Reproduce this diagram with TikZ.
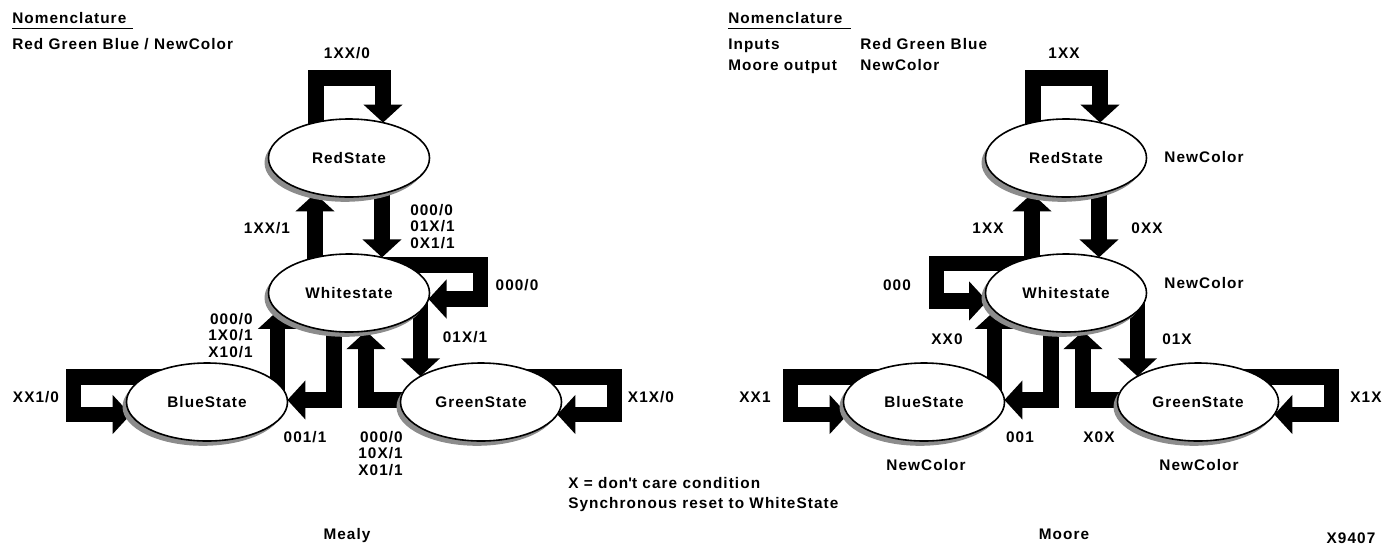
\documentclass[tikz,border=0pt]{standalone}
\usepackage{fontspec}
\setmainfont{Liberation Sans}[LetterSpace=7]
\usetikzlibrary{arrows.meta,shapes.geometric,calc,shadows,backgrounds}
\newcommand\lblfont{\fontsize{11.5}{12.4}\selectfont\bfseries}
\tikzset{
  st/.style={ellipse, draw, line width=1.2pt, fill=white, minimum width=120.75pt,
    minimum height=58.5pt, inner sep=0pt, font=\lblfont,
    general shadow={fill=black!45, shadow xshift=-3pt, shadow yshift=-3.6pt}},
  fat/.style={line width=11.6pt, line join=miter, line cap=butt,
    -{Triangle[width=28.5pt,length=13.5pt]}},
  lbl/.style={font=\lblfont, inner sep=0pt},
  rule/.style={line width=1.2pt},
}
% arrows common to both machines; #1 = name prefix
\newcommand\fsmarrows[1]{%
  % RedState self loop
  \draw[fat] ($(#1R)+(-33,-10)$) -- ($(#1R)+(-33,-80)$) -- ($(#1R)+(34,-80)$) -- ($(#1R)+(34,-35.4)$);
  % White -> Red
  \draw[fat] ($(#1W)+(-34,-10)$) -- ($(#1R)+(-34,35.4)$);
  % Red -> White
  \draw[fat] ($(#1R)+(33,10)$) -- ($(#1W)+(33,-35.6)$);
  % Blue -> White
  \draw[fat] ($(#1B)+(70.5,-5)$) -- ($(#1W)+(-71.5,17.9)$);
  % White -> Blue
  \draw[fat] ($(#1W)+(-15,20)$) -- ($(#1W)+(-15,107)$) -- ($(#1B)+(80.4,-2)$);
  % Green -> White
  \draw[fat] ($(#1G)+(-50,-2)$) -- ($(#1W)+(17,107)$) -- ($(#1W)+(17,38.1)$);
  % White -> Green
  \draw[fat] ($(#1W)+(71.5,5)$) -- ($(#1G)+(-60.5,-25.7)$);
  % BlueState self loop
  \draw[fat] ($(#1B)+(-40,-25)$) -- ($(#1B)+(-133.5,-25)$) -- ($(#1B)+(-133.5,12.5)$) -- ($(#1B)+(-76.3,12.5)$);
  % GreenState self loop
  \draw[fat] ($(#1G)+(40,-25)$) -- ($(#1G)+(133.5,-25)$) -- ($(#1G)+(133.5,12.5)$) -- ($(#1G)+(76.3,12.5)$);
}
\begin{document}
\begin{tikzpicture}[x=0.75pt,y=-0.75pt]
\useasboundingbox (0,0) rectangle (1395,547);

% ---------------- Mealy ----------------
\node[st] (aR) at (349,158) {RedState};
\node[st] (aW) at (349,293) {Whitestate};
\node[st] (aB) at (207,402) {BlueState};
\node[st] (aG) at (481,402) {GreenState};

% ---------------- Moore ----------------
\node[st] (bR) at (1066,158) {RedState};
\node[st] (bW) at (1066,293) {Whitestate};
\node[st] (bB) at (924,402) {BlueState};
\node[st] (bG) at (1198,402) {GreenState};

\begin{pgfonlayer}{background}
  \fsmarrows{a}
  % Mealy: Whitestate self loop (right)
  \draw[fat] ($(aW)+(31,-28)$) -- ($(aW)+(131.5,-28)$) -- ($(aW)+(131.5,6)$) -- ($(aW)+(79.5,6)$);
  \fsmarrows{b}
  % Moore: Whitestate self loop (left)
  \draw[fat] ($(bW)+(-26,-29.5)$) -- ($(bW)+(-129.5,-29.5)$) -- ($(bW)+(-129.5,8)$) -- ($(bW)+(-78.8,8)$);
\end{pgfonlayer}

% ---------------- Mealy labels ----------------
\node[lbl, anchor=base west] (aNom) at (12,23) {Nomenclature};
\draw[rule] (12,28.5) -- (133,28.5);
\node[lbl, anchor=base west] (aNomT) at (12,49) {Red Green Blue / NewColor};
\node[lbl] (aL1) at (347,53) {1XX/0};
\node[lbl] (aL2) at (267,228) {1XX/1};
\node[lbl, anchor=west, align=left] (aL3) at (410,226.5) {000/0\\01X/1\\0X1/1};
\node[lbl] (aL4) at (517,285) {000/0};
\node[lbl] (aL5) at (465,337) {01X/1};
\node[lbl, anchor=east, align=right] (aL6) at (253,335.5) {000/0\\1X0/1\\X10/1};
\node[lbl] (aL7) at (36,397) {XX1/0};
\node[lbl] (aL8) at (305,437) {001/1};
\node[lbl, anchor=east, align=right] (aL9) at (403,453.5) {000/0\\10X/1\\X01/1};
\node[lbl] (aL10) at (651,397) {X1X/0};
\node[lbl, anchor=base west] (note1) at (568,488) {X = don\textquotesingle t care condition};
\node[lbl, anchor=base west] (note2) at (568,508) {Synchronous reset to WhiteState};
\node[lbl, anchor=base] (aTitle) at (347,539) {Mealy};

% ---------------- Moore labels ----------------
\node[lbl, anchor=base west] (bNom) at (728,23) {Nomenclature};
\draw[rule] (728,28.5) -- (851,28.5);
\node[lbl, anchor=base west] (bIn) at (728,49) {Inputs};
\node[lbl, anchor=base west] (bInV) at (860,49) {Red Green Blue};
\node[lbl, anchor=base west] (bOut) at (728,70) {Moore output};
\node[lbl, anchor=base west] (bOutV) at (860,70) {NewColor};
\node[lbl] (bL1) at (1064,53) {1XX};
\node[lbl] (bO1) at (1204,157) {NewColor};
\node[lbl] (bL2) at (988,228) {1XX};
\node[lbl] (bL3) at (1147,228) {0XX};
\node[lbl] (bL4) at (897,285) {000};
\node[lbl] (bO2) at (1204,283) {NewColor};
\node[lbl] (bL5) at (947,339) {XX0};
\node[lbl] (bL6) at (1177,339) {01X};
\node[lbl] (bL7) at (755,397) {XX1};
\node[lbl] (bL8) at (1020,437) {001};
\node[lbl] (bL9) at (1099,437) {X0X};
\node[lbl] (bO3) at (926,465) {NewColor};
\node[lbl] (bL10) at (1366,397) {X1X};
\node[lbl] (bO4) at (1199,465) {NewColor};
\node[lbl, anchor=base] (bTitle) at (1064,539) {Moore};
\node[lbl, anchor=base] (fig) at (1351,543) {X9407};
\end{tikzpicture}
\end{document}
